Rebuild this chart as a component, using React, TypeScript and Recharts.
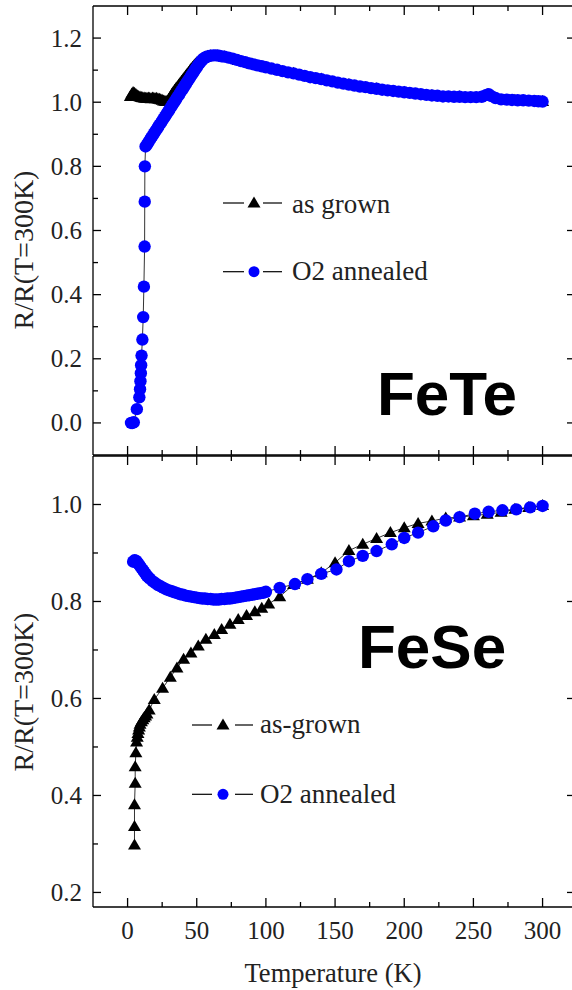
import React from 'react';
import { LineChart, Line, XAxis, YAxis, Legend } from 'recharts';

const SERIF = '"Liberation Serif", "Times New Roman", serif';
const SANS = '"Liberation Sans", Arial, sans-serif';

// temperature axis (K)
const tempMajor = [0, 50, 100, 150, 200, 250, 300];
const tempMinor = [25, 75, 125, 175, 225, 275];
const tempDomain: [number, number] = [-25, 322];

// R/R(300K) axes
const feTeMajor = [0, 0.2, 0.4, 0.6, 0.8, 1.0, 1.2];
const feTeMinor = [0.1, 0.3, 0.5, 0.7, 0.9, 1.1];
const feSeMajor = [0.2, 0.4, 0.6, 0.8, 1.0];
const feSeMinor = [0.3, 0.5, 0.7, 0.9];

const annealedName = 'O2 annealed';

// FeTe, as grown
const feTeGrownT = [
  2, 3, 4, 5, 6, 7, 8, 9, 10, 11, 12, 13, 14, 15, 16, 17, 18, 19, 20, 21, 22, 23, 24, 25,
  26, 27, 28, 29, 30, 31, 32, 33, 34, 35, 36, 37, 38, 39, 40, 41, 42, 43, 44, 45, 46, 47, 48, 49,
  50, 52, 54, 56, 58, 60, 65, 70, 80, 90, 100, 120, 140, 160, 180, 200, 220, 240, 260, 280, 300,
];
const feTeGrownR = [
  1.018, 1.026, 1.03, 1.028, 1.024, 1.02, 1.018, 1.016, 1.015, 1.014, 1.013, 1.012, 1.012, 1.013, 1.012, 1.011, 1.013, 1.012, 1.011, 1.012, 1.01, 1.009, 1.008, 1.006,
  1.004, 1.003, 1.002, 1.004, 1.01, 1.017, 1.025, 1.031, 1.037, 1.043, 1.048, 1.054, 1.059, 1.065, 1.07, 1.076, 1.082, 1.087, 1.093, 1.098, 1.104, 1.109, 1.114, 1.119,
  1.123, 1.131, 1.137, 1.141, 1.143, 1.145, 1.145, 1.142, 1.13, 1.119, 1.109, 1.09, 1.072, 1.055, 1.042, 1.031, 1.021, 1.017, 1.024, 1.006, 1.002,
];

// FeTe, O2 annealed
const feTeAnnealT = [
  2.5, 3.5, 4.5, 6.7, 8.5, 9, 9.3, 9.6, 9.8, 10.1, 10.7, 11.3, 11.8, 12.3, 12.4, 12.5,
  13, 14, 15, 16, 17, 18, 19, 20, 21, 22, 23, 24, 25, 26, 27, 28, 29, 30, 31, 32, 33, 34, 35,
  36, 37, 38, 39, 40, 41, 42, 43, 44, 45, 46, 47, 48, 49, 50, 51, 52, 53, 54, 55, 56, 57, 58,
  60, 62, 64, 66, 68, 70, 73, 76, 79, 82, 85, 88, 91, 94, 97, 100,
  104, 108, 112, 116, 120, 124, 128, 132, 136, 140, 144, 148, 152, 156, 160, 164, 168, 172, 176, 180,
  184, 188, 192, 196, 200, 204, 208, 212, 216, 220, 224, 228, 232, 236, 240, 244, 248, 252, 256,
  259, 261, 263, 266, 270, 274, 278, 282, 286, 290, 294, 297, 300,
];
const feTeAnnealR = [
  0, 0, 0.002, 0.043, 0.08, 0.105, 0.13, 0.155, 0.18, 0.21, 0.26, 0.33, 0.425, 0.55, 0.69, 0.8,
  0.862, 0.868, 0.875, 0.882, 0.889, 0.895, 0.902, 0.909, 0.915, 0.922, 0.929, 0.935, 0.942, 0.949, 0.955, 0.962, 0.969, 0.975, 0.982, 0.989, 0.996, 1.002, 1.009,
  1.016, 1.022, 1.029, 1.036, 1.042, 1.049, 1.056, 1.063, 1.069, 1.076, 1.083, 1.089, 1.096, 1.103, 1.109, 1.116, 1.121, 1.127, 1.132, 1.136, 1.139, 1.141, 1.143,
  1.145, 1.146, 1.146, 1.145, 1.143, 1.142, 1.139, 1.136, 1.132, 1.128, 1.125, 1.121, 1.118, 1.115, 1.112, 1.109,
  1.105, 1.101, 1.097, 1.093, 1.09, 1.086, 1.082, 1.078, 1.075, 1.072, 1.068, 1.065, 1.061, 1.058, 1.055, 1.052, 1.049, 1.047, 1.044, 1.042,
  1.039, 1.037, 1.035, 1.033, 1.031, 1.029, 1.027, 1.025, 1.023, 1.021, 1.02, 1.018, 1.018, 1.017, 1.017, 1.016, 1.016, 1.016, 1.017,
  1.022, 1.025, 1.019, 1.013, 1.009, 1.008, 1.007, 1.006, 1.006, 1.005, 1.004, 1.003, 1.002,
];

// FeSe, as grown
const feSeGrownT = [
  5, 5, 5, 5.5, 5.5, 6, 6.5, 7, 7.5, 8, 8.5, 9, 10, 11, 12, 13, 14,
  15.6, 19.3, 25.3, 30.9, 35.7, 40.5, 45.8, 51.1, 56.6, 62.7, 68, 74, 80, 86, 92, 97, 102,
  110, 120, 130, 140, 150, 160, 170, 180, 190, 200, 210, 220, 230, 240, 250, 260, 270, 280, 290, 300,
];
const feSeGrownR = [
  0.298, 0.336, 0.381, 0.425, 0.459, 0.488, 0.51, 0.52, 0.528, 0.535, 0.541, 0.547, 0.552, 0.556, 0.56, 0.564, 0.568,
  0.576, 0.598, 0.621, 0.644, 0.663, 0.681, 0.694, 0.708, 0.722, 0.732, 0.742, 0.753, 0.763, 0.771, 0.779, 0.786, 0.795,
  0.81, 0.835, 0.846, 0.859, 0.88, 0.905, 0.918, 0.93, 0.942, 0.952, 0.961, 0.966, 0.972, 0.974, 0.977, 0.98, 0.984, 0.99, 0.994, 0.998,
];

// FeSe, O2 annealed
const feSeAnnealT = [
  4, 5, 6, 7, 8, 9, 10, 11, 12, 13, 14, 15, 16,
  18, 20, 22, 24, 26, 28, 30, 32, 34, 36, 38, 40, 42, 44, 46, 48, 50, 52, 54, 56, 58,
  60, 62, 64, 66, 68, 70, 72, 74, 76, 78, 80, 82, 84, 86, 88, 90, 92, 94, 96, 98, 100,
  110, 121, 130, 140, 151, 160, 170, 180, 191, 200, 210, 221, 230, 240, 251, 261, 271, 281, 291, 300,
];
const feSeAnnealR = [
  0.882, 0.885, 0.884, 0.881, 0.877, 0.873, 0.869, 0.865, 0.861, 0.857, 0.853, 0.85, 0.847,
  0.842, 0.838, 0.834, 0.831, 0.828, 0.825, 0.823, 0.821, 0.819, 0.817, 0.815, 0.814, 0.812, 0.811, 0.81, 0.809, 0.808, 0.807, 0.806, 0.806, 0.805,
  0.805, 0.804, 0.804, 0.804, 0.805, 0.805, 0.806, 0.806, 0.807, 0.808, 0.809, 0.81, 0.811, 0.812, 0.813, 0.814, 0.815, 0.816, 0.817, 0.818, 0.82,
  0.828, 0.836, 0.846, 0.857, 0.866, 0.883, 0.894, 0.904, 0.918, 0.931, 0.942, 0.955, 0.967, 0.974, 0.981, 0.985, 0.988, 0.99, 0.994, 0.997,
];

type Row = { T: number; R: number };
const toRows = (t: number[], r: number[]): Row[] => t.map((T, i) => ({ T, R: r[i] }));

const triPoints = (cx: number, cy: number) =>
  `${cx},${cy - 6.5} ${cx - 6.5},${cy + 4.5} ${cx + 6.5},${cy + 4.5}`;

const TriangleDot = (props: any) => {
  const { cx, cy, index } = props;
  if (cx == null || cy == null) return <g key={`t-${index}`} />;
  return <polygon key={`t-${index}`} points={triPoints(cx, cy)} fill="#000" />;
};

const near = (list: number[], v: number) => list.some((m) => Math.abs(m - v) < 1e-6);

type LegendGeom = { lineA: [number, number]; marker: number; lineB: [number, number]; text: number; rows: { cy: number; base: number }[] };

function legendContent(g: LegendGeom) {
  return (props: any) => {
    const payload = props.payload || [];
    return (
      <svg width={260} height={110} style={{ overflow: 'visible', display: 'block' }}>
        {payload.map((entry: any) => {
          // as grown on the first row, annealed below it
          const annealed = entry.value === annealedName;
          const row = g.rows[annealed ? 1 : 0];
          return (
            <g key={entry.value}>
              <line x1={g.lineA[0]} x2={g.lineA[1]} y1={row.cy} y2={row.cy} stroke="#000" strokeWidth={1.2} />
              <line x1={g.lineB[0]} x2={g.lineB[1]} y1={row.cy} y2={row.cy} stroke="#000" strokeWidth={1.2} />
              {annealed
                ? <circle cx={g.marker} cy={row.cy} r={5.5} fill="#0000ff" />
                : <polygon points={triPoints(g.marker, row.cy)} fill="#000" />}
              <text x={g.text} y={row.base} fontFamily={SERIF} fontSize={27} fill="#222">{entry.value}</text>
            </g>
          );
        })}
      </svg>
    );
  };
}

type PanelProps = {
  top: number;
  height: number;
  margin: { top: number; right: number; bottom: number; left: number };
  bottomAxisHeight: number;
  yDomain: [number, number];
  yMajor: number[];
  yMinor: number[];
  grown: Row[];
  annealed: Row[];
  grownName: string;
  showXLabels: boolean;
  legendPos: { left: number; top: number };
  legendGeom: LegendGeom;
};

function Panel(p: PanelProps) {
  const bottomTick = (props: any) => {
    const { x, y, payload } = props;
    const major = near(tempMajor, payload.value);
    return (
      <g>
        <line x1={x} x2={x} y1={y} y2={y - (major ? 9 : 5)} stroke="#000" strokeWidth={1.3} />
        {p.showXLabels && major && (
          <text x={x} y={y + 32} textAnchor="middle" fontFamily={SERIF} fontSize={25} fill="#222">{payload.value}</text>
        )}
      </g>
    );
  };
  const topTick = (props: any) => {
    const { x, y, payload } = props;
    const major = near(tempMajor, payload.value);
    return <line x1={x} x2={x} y1={y} y2={y + (major ? 9 : 5)} stroke="#000" strokeWidth={1.3} />;
  };
  const leftTick = (props: any) => {
    const { x, y, payload } = props;
    const major = near(p.yMajor, payload.value);
    return (
      <g>
        <line x1={x} x2={x + (major ? 8 : 5)} y1={y} y2={y} stroke="#000" strokeWidth={1.3} />
        {major && (
          <text x={x - 11} y={y} dy="0.34em" textAnchor="end" fontFamily={SERIF} fontSize={25} fill="#222">
            {Number(payload.value).toFixed(1)}
          </text>
        )}
      </g>
    );
  };
  const rightTick = (props: any) => {
    const { x, y } = props;
    return <line x1={x} x2={x - 6} y1={y} y2={y} stroke="#000" strokeWidth={1.3} />;
  };

  const xTicks = [...tempMajor, ...tempMinor].sort((a, b) => a - b);
  const yTicks = [...p.yMajor, ...p.yMinor].sort((a, b) => a - b);
  const axisLine = { stroke: '#000', strokeWidth: 1.3 };

  return (
    <div style={{ position: 'absolute', left: 0, top: p.top }}>
      <LineChart width={580} height={p.height} margin={p.margin}>
        <XAxis xAxisId="b" orientation="bottom" type="number" dataKey="T" domain={tempDomain} allowDataOverflow
          ticks={xTicks} interval={0} tickSize={0} tickMargin={0} tickLine={false} axisLine={axisLine}
          tick={bottomTick} height={p.bottomAxisHeight} />
        <XAxis xAxisId="t" orientation="top" type="number" dataKey="T" domain={tempDomain} allowDataOverflow
          ticks={xTicks} interval={0} tickSize={0} tickMargin={0} tickLine={false} axisLine={axisLine}
          tick={topTick} height={1} />
        <YAxis yAxisId="l" orientation="left" type="number" domain={p.yDomain} allowDataOverflow
          ticks={yTicks} interval={0} tickSize={0} tickMargin={0} tickLine={false} axisLine={axisLine}
          tick={leftTick} width={93} />
        <YAxis yAxisId="r" orientation="right" type="number" domain={p.yDomain} allowDataOverflow
          ticks={p.yMajor} interval={0} tickSize={0} tickMargin={0} tickLine={false} axisLine={axisLine}
          tick={rightTick} width={1} />
        <Legend layout="vertical" align="center" verticalAlign="middle"
          wrapperStyle={{ left: p.legendPos.left, top: p.legendPos.top, width: 260, height: 110 }}
          content={legendContent(p.legendGeom)} />
        <Line xAxisId="b" yAxisId="l" data={p.grown} dataKey="R" name={p.grownName}
          stroke="#000" strokeWidth={0.8} dot={TriangleDot} activeDot={false} isAnimationActive={false} />
        <Line xAxisId="b" yAxisId="l" data={p.annealed} dataKey="R" name={annealedName}
          stroke="#000" strokeWidth={0.8} dot={{ r: 6.2, fill: '#0000ff', stroke: 'none' }} activeDot={false}
          isAnimationActive={false} />
      </LineChart>
    </div>
  );
}

export default function App() {
  return (
    <div style={{ position: 'absolute', left: 0, top: 0, width: 572, height: 990, overflow: 'hidden', background: '#fff' }}>
      <Panel
        top={0}
        height={460}
        margin={{ top: 5, right: 6, bottom: 0, left: 0 }}
        bottomAxisHeight={5}
        yDomain={[-0.1, 1.3]}
        yMajor={feTeMajor}
        yMinor={feTeMinor}
        grown={toRows(feTeGrownT, feTeGrownR)}
        annealed={toRows(feTeAnnealT, feTeAnnealR)}
        grownName="as grown"
        showXLabels={false}
        legendPos={{ left: 215, top: 185 }}
        legendGeom={{ lineA: [8, 29], marker: 39, lineB: [48, 67], text: 77, rows: [{ cy: 18, base: 28 }, { cy: 86.7, base: 95 }] }}
      />
      <Panel
        top={450}
        height={540}
        margin={{ top: 5, right: 6, bottom: 0, left: 0 }}
        bottomAxisHeight={83}
        yDomain={[0.17, 1.1]}
        yMajor={feSeMajor}
        yMinor={feSeMinor}
        grown={toRows(feSeGrownT, feSeGrownR)}
        annealed={toRows(feSeAnnealT, feSeAnnealR)}
        grownName="as-grown"
        showXLabels={true}
        legendPos={{ left: 185, top: 260 }}
        legendGeom={{ lineA: [7, 27], marker: 38, lineB: [50, 68], text: 75, rows: [{ cy: 15, base: 23.3 }, { cy: 84.3, base: 93.3 }] }}
      />
      <svg width={572} height={990} style={{ position: 'absolute', left: 0, top: 0, pointerEvents: 'none' }}>
        <text x={377} y={415} fontFamily={SANS} fontWeight="bold" fontSize={62} fill="#000">FeTe</text>
        <text x={358} y={668} fontFamily={SANS} fontWeight="bold" fontSize={62} fill="#000">FeSe</text>
        <text transform="translate(33, 250) rotate(-90)" textAnchor="middle" fontFamily={SERIF} fontSize={28} fill="#222">R/R(T=300K)</text>
        <text transform="translate(33, 692) rotate(-90)" textAnchor="middle" fontFamily={SERIF} fontSize={28} fill="#222">R/R(T=300K)</text>
        <text x={333} y={982} textAnchor="middle" fontFamily={SERIF} fontSize={26.5} fill="#222">Temperature (K)</text>
      </svg>
    </div>
  );
}
